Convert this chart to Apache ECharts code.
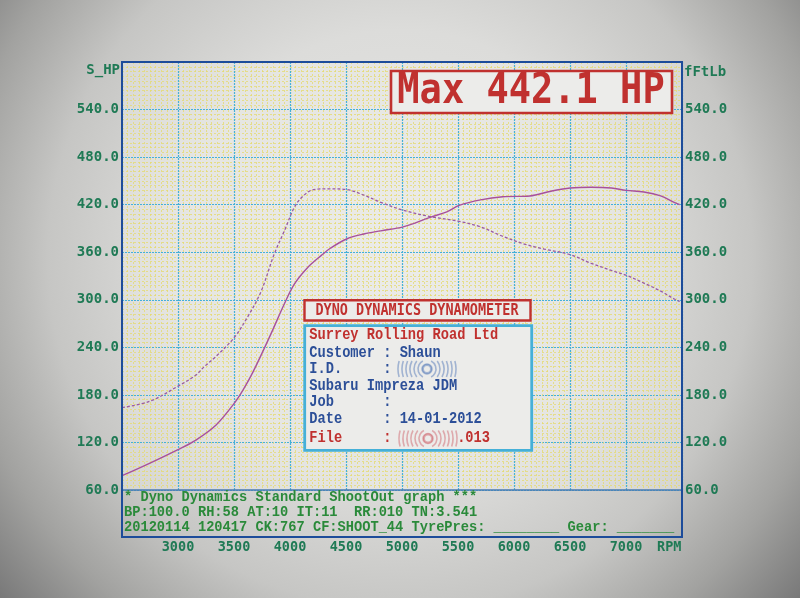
<!DOCTYPE html>
<html>
<head>
<meta charset="utf-8">
<script src="https://cdn.jsdelivr.net/npm/echarts@6/dist/echarts.min.js"></script>
<style>html,body{margin:0;padding:0;}#c{width:800px;height:598px;}</style>
</head>
<body>
<div id="c"></div>
<script>
// ---- data ----
const rpmHp = [2500, 2750, 3000, 3160, 3340, 3500, 3580, 3670, 3830, 3950, 4040, 4160, 4280, 4360, 4510, 4660, 4810, 5010, 5250, 5400, 5510, 5700, 5900, 6140, 6330, 6500, 6690, 6870, 7000, 7160, 7310, 7430, 7480];
const hp    = [78, 94, 111, 123, 142, 169, 186, 209, 257, 295, 320, 341, 356, 365, 377, 383, 387, 392, 404, 411, 419, 426, 430, 431, 437, 441, 442, 441, 438, 436, 431, 423, 420];
const rpmTq = [2500, 2750, 3000, 3160, 3230, 3350, 3500, 3620, 3740, 3860, 3950, 4040, 4110, 4210, 4360, 4510, 4660, 4810, 5010, 5250, 5510, 5700, 5900, 6100, 6270, 6500, 6690, 6870, 7000, 7160, 7310, 7430, 7480];
const tq    = [164, 172, 191, 205, 215, 230, 252, 278, 310, 358, 387, 417, 430, 439, 440, 439, 432, 423, 413, 405, 399, 392, 380, 370, 364, 357, 346, 337, 331, 321, 311, 301, 298];
const xTicks = [3000, 3500, 4000, 4500, 5000, 5500, 6000, 6500, 7000];
const yTicks = [60, 120, 180, 240, 300, 360, 420, 480, 540];
const maxHp = 442.1;
const leftAxisName = 'S_HP';
const rightAxisName = 'fFtLb';
const headerTitle = 'DYNO DYNAMICS DYNAMOMETER';
const infoLines = [
  {t: 'Surrey Rolling Road Ltd', c: 'red'},
  {t: 'Customer : Shaun', c: 'blue'},
  {t: 'I.D.     :', c: 'blue'},
  {t: 'Subaru Impreza JDM', c: 'blue'},
  {t: 'Job      :', c: 'blue'},
  {t: 'Date     : 14-01-2012', c: 'blue'},
  {t: 'File     :        .013', c: 'red'}
];
const footerLines = [
  '* Dyno Dynamics Standard ShootOut graph ***',
  'BP:100.0 RH:58 AT:10 IT:11  RR:010 TN:3.541',
  '20120114 120417 CK:767 CF:SHOOT_44 TyrePres: ________ Gear: _______'
];

const hpData = rpmHp.map((r, i) => [r, hp[i]]);
const tqData = rpmTq.map((r, i) => [r, tq[i]]);

const GREEN = '#1f7a55';
const FGREEN = '#2a8a3a';
const RED = '#c0312f';
const BLUE = '#2c4f98';
const CYAN = '#45b0d8';
const YEL = 'rgba(228,218,110,0.75)';
const NUMFONT = 'bold 14px "DejaVu Sans Mono", monospace';
const TXTFONT = 'bold 13.7px "Liberation Mono", monospace';

function txt(x, y, text, fill, font, align, sy) {
  return {
    type: 'text', x: x, y: y, z: 20, silent: true,
    scaleY: sy || 1, originX: 0, originY: 0,
    style: {text: text, fill: fill, font: font, textAlign: align || 'left', align: align || 'left',
            textVerticalAlign: 'middle', verticalAlign: 'middle'}
  };
}

function rings(cx, cy, color) {
  const els = [];
  const h = 8;
  [5, 9, 13, 17, 21, 25, 29].forEach(r => {
    const a = r > h ? Math.asin(h / r) : Math.PI / 2;
    els.push({type: 'arc', z: 20, silent: true, shape: {cx: cx, cy: cy, r: r, startAngle: -a, endAngle: a},
      style: {stroke: color, lineWidth: 1.6, fill: null}});
    els.push({type: 'arc', z: 20, silent: true, shape: {cx: cx, cy: cy, r: r, startAngle: Math.PI - a, endAngle: Math.PI + a},
      style: {stroke: color, lineWidth: 1.6, fill: null}});
  });
  els.push({type: 'circle', z: 20, silent: true, shape: {cx: cx, cy: cy, r: 4}, style: {stroke: color, lineWidth: 2, fill: null}});
  return els;
}

const chart = echarts.init(document.getElementById('c'), null, {renderer: 'canvas'});

const graphics = [];
graphics.push({type: 'rect', z: 5, silent: true, shape: {x: 122, y: 62, width: 560, height: 475},
  style: {fill: null, stroke: '#1d4c9a', lineWidth: 2}});
graphics.push(txt(120, 70, leftAxisName, GREEN, NUMFONT, 'right'));
graphics.push(txt(684, 72, rightAxisName, GREEN, NUMFONT, 'left'));
graphics.push(txt(657, 547, 'RPM', GREEN, 'bold 13.5px "DejaVu Sans Mono", monospace', 'left'));
// max box
graphics.push({type: 'rect', z: 15, silent: true, shape: {x: 391, y: 71, width: 281, height: 42},
  style: {fill: '#ececea', stroke: RED, lineWidth: 2.6}});
graphics.push(txt(531, 92, 'Max ' + maxHp.toFixed(1) + ' HP', RED, 'bold 37px "DejaVu Sans Mono", monospace', 'center', 1.15));
// header box
graphics.push({type: 'rect', z: 15, silent: true, shape: {x: 304.5, y: 300.2, width: 226, height: 20.3},
  style: {fill: '#ececea', stroke: RED, lineWidth: 2.4}});
graphics.push(txt(417, 310.5, headerTitle, RED, 'bold 13.5px "DejaVu Sans Mono", monospace', 'center', 1.15));
// info box
graphics.push({type: 'rect', z: 15, silent: true, shape: {x: 304.7, y: 325.7, width: 227, height: 124.7},
  style: {fill: '#ececea', stroke: CYAN, lineWidth: 2.8}});
const infoY = [335, 353.3, 369, 386.3, 402.3, 418.7, 438.3];
infoLines.forEach((l, i) => {
  graphics.push(txt(309.3, infoY[i], l.t, l.c === 'red' ? RED : BLUE, TXTFONT, 'left', 1.2));
});
rings(427, 369, 'rgba(70,110,180,0.45)').forEach(e => graphics.push(e));
rings(428, 438.5, 'rgba(200,70,80,0.4)').forEach(e => graphics.push(e));
const footY = [497.3, 512.3, 527.3];
footerLines.forEach((t, i) => {
  graphics.push(txt(124, footY[i], t, FGREEN, TXTFONT, 'left', 1.1));
});

const yAxisCommon = {
  type: 'value', min: 60, max: 600, interval: 60,
  axisLine: {show: true, lineStyle: {color: '#1d4c9a', width: 2}},
  axisTick: {show: false},
  minorTick: {show: false, splitNumber: 10},
  axisLabel: {
    color: GREEN, fontFamily: '"DejaVu Sans Mono", monospace', fontWeight: 'bold', fontSize: 14, margin: 3,
    formatter: v => yTicks.indexOf(v) >= 0 ? v.toFixed(1) : ''
  }
};

chart.setOption({
  animation: false,
  backgroundColor: new echarts.graphic.RadialGradient(0.5, 0.43, 0.95, [
    {offset: 0, color: '#e6e6e4'},
    {offset: 0.4, color: '#dcdcda'},
    {offset: 0.62, color: '#c6c6c4'},
    {offset: 0.78, color: '#a2a2a0'},
    {offset: 0.92, color: '#7a7a7a'},
    {offset: 1, color: '#5e5e5e'}
  ]),
  grid: {left: 122, right: 118, top: 62, bottom: 108, show: true, backgroundColor: 'rgba(245,245,240,0.35)', borderWidth: 0},
  xAxis: {
    type: 'value', min: 2500, max: 7500, interval: 500,
    axisLine: {show: true, lineStyle: {color: '#4a7ab0', width: 1.5}},
    axisTick: {show: false},
    axisLabel: {
      color: GREEN, fontFamily: '"DejaVu Sans Mono", monospace', fontWeight: 'bold', fontSize: 13.5, margin: 50,
      formatter: v => xTicks.indexOf(v) >= 0 ? String(v) : ''
    },
    splitLine: {show: true, lineStyle: {color: CYAN, width: 1.2, type: [2, 1]}},
    minorTick: {show: false, splitNumber: 10},
    minorSplitLine: {show: true, lineStyle: {color: YEL, width: 1, type: [2, 2]}}
  },
  yAxis: [
    Object.assign({}, yAxisCommon, {
      position: 'left',
      splitLine: {show: true, lineStyle: {color: CYAN, width: 1.2, type: [2, 1]}},
      minorSplitLine: {show: true, lineStyle: {color: YEL, width: 1, type: [2, 2]}}
    }),
    Object.assign({}, yAxisCommon, {
      position: 'right',
      splitLine: {show: false}
    })
  ],
  series: [
    {
      type: 'line', name: 'HP', yAxisIndex: 0, data: hpData, showSymbol: false, smooth: 0.35,
      lineStyle: {color: '#a8509c', width: 1.4}, z: 3
    },
    {
      type: 'line', name: 'Torque', yAxisIndex: 1, data: tqData, showSymbol: false, smooth: 0.35,
      lineStyle: {color: '#9a5aa4', width: 1.3, type: [3, 2]}, z: 3
    }
  ],
  graphic: graphics
});
</script>
</body>
</html>
